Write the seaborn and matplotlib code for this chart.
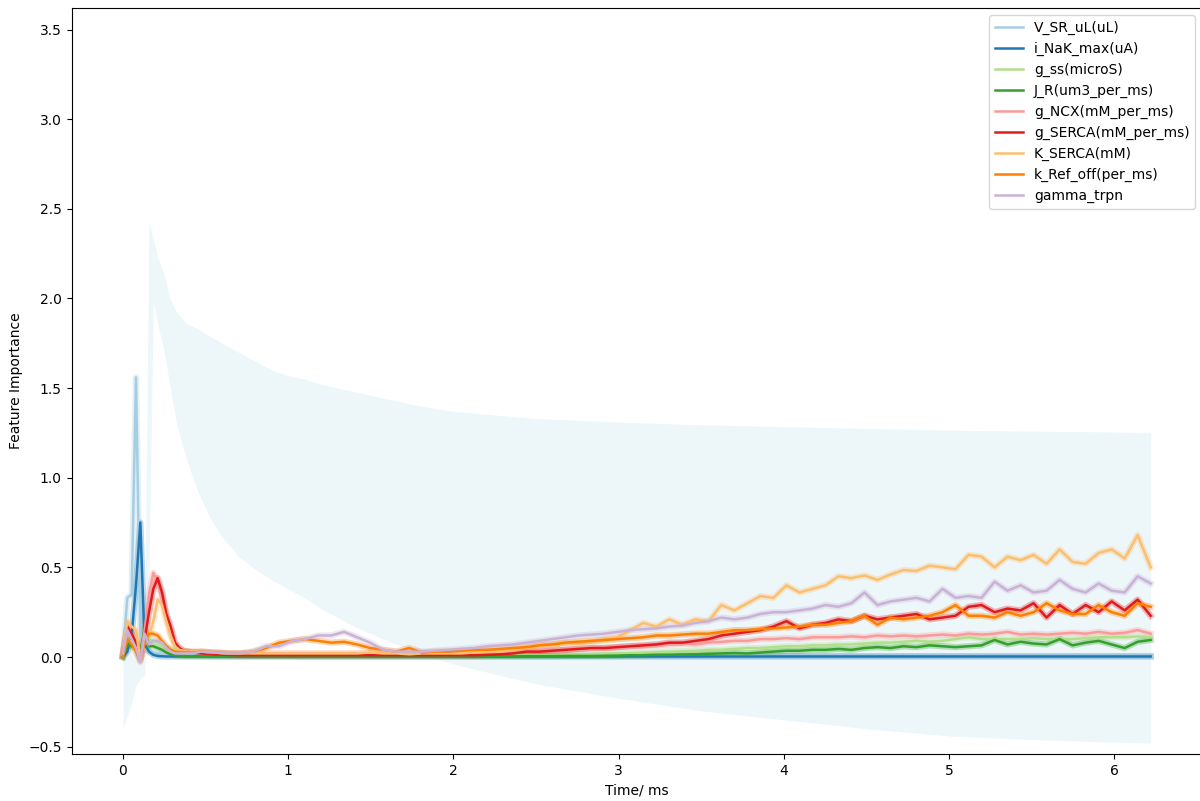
import matplotlib
matplotlib.use("Agg")
import matplotlib.pyplot as plt
import numpy as np
import pandas as pd
import seaborn as sns

# Sampling grid (ms): fine steps during the initial transient, coarser afterwards
STEP = 0.02625
grid_idx = list(range(0, 17)) + list(range(18, 238, 3))
time_ms = [round(k * STEP, 5) for k in grid_idx]

features = [
    "V_SR_uL(uL)", "i_NaK_max(uA)", "g_ss(microS)", "J_R(um3_per_ms)",
    "g_NCX(mM_per_ms)", "g_SERCA(mM_per_ms)", "K_SERCA(mM)",
    "k_Ref_off(per_ms)", "gamma_trpn",
]

v_sr = [0.01, 0.33, 0.35, 1.56, 0.12, 0.05, 0.03, 0.025, 0.02, 0.02, 0.018, 0.016, 0.015, 0.014, 0.013, 0.012, 0.012,
        0.011, 0.01, 0.01, 0.01, 0.009, 0.009, 0.009, 0.008, 0.008, 0.008,
        0.008, 0.008, 0.008, 0.007, 0.007, 0.007, 0.007, 0.007, 0.007, 0.007,
        0.007, 0.007, 0.007, 0.007, 0.007, 0.006, 0.006, 0.006, 0.006, 0.006,
        0.006, 0.006, 0.006, 0.006, 0.006, 0.006, 0.006, 0.006, 0.006, 0.006,
        0.006, 0.006, 0.006, 0.006, 0.006, 0.006, 0.006, 0.006, 0.006, 0.006,
        0.005, 0.005, 0.005, 0.005, 0.005, 0.005, 0.005, 0.005, 0.005, 0.005,
        0.005, 0.005, 0.005, 0.005, 0.005, 0.005, 0.005, 0.005, 0.005, 0.005,
        0.005, 0.005, 0.005, 0.005]

i_nak = [0.0, 0.03, 0.12, 0.4, 0.75, 0.07, 0.03, 0.012, 0.006, 0.004, 0.003, 0.003, 0.003, 0.003, 0.003, 0.003, 0.003,
         0.003, 0.003, 0.003, 0.003, 0.003, 0.003, 0.003, 0.003, 0.003, 0.003,
         0.003, 0.003, 0.003, 0.003, 0.003, 0.003, 0.003, 0.003, 0.003, 0.003,
         0.003, 0.003, 0.003, 0.003, 0.003, 0.003, 0.003, 0.003, 0.003, 0.003,
         0.003, 0.003, 0.003, 0.003, 0.003, 0.003, 0.003, 0.003, 0.003, 0.003,
         0.003, 0.003, 0.003, 0.003, 0.003, 0.003, 0.003, 0.003, 0.003, 0.003,
         0.003, 0.003, 0.003, 0.003, 0.003, 0.003, 0.003, 0.003, 0.003, 0.003,
         0.003, 0.003, 0.003, 0.003, 0.003, 0.003, 0.003, 0.003, 0.003, 0.003,
         0.003, 0.003, 0.003, 0.003]

g_ss = [0.01, 0.1, 0.08, 0.06, 0.02, 0.14, 0.1, 0.09, 0.08, 0.065, 0.055, 0.045, 0.04, 0.035, 0.032, 0.03, 0.028,
        0.025, 0.02, 0.016, 0.013, 0.011, 0.01, 0.009, 0.009, 0.008, 0.008,
        0.008, 0.008, 0.008, 0.007, 0.007, 0.007, 0.007, 0.007, 0.007, 0.008,
        0.008, 0.008, 0.008, 0.009, 0.009, 0.01, 0.01, 0.012, 0.014, 0.015,
        0.016, 0.018, 0.02, 0.022, 0.025, 0.028, 0.03, 0.032, 0.035, 0.04,
        0.04, 0.045, 0.05, 0.05, 0.055, 0.06, 0.06, 0.065, 0.065, 0.07,
        0.07, 0.075, 0.08, 0.08, 0.085, 0.09, 0.085, 0.09, 0.1, 0.11,
        0.1, 0.1, 0.1, 0.1, 0.105, 0.1, 0.1, 0.1, 0.105, 0.11,
        0.11, 0.11, 0.115, 0.11]

j_r = [0.0, 0.07, 0.06, 0.05, 0.03, 0.16, 0.06, 0.06, 0.05, 0.04, 0.025, 0.015, 0.01, 0.008, 0.007, 0.006, 0.006,
       0.006, 0.005, 0.005, 0.005, 0.005, 0.005, 0.005, 0.005, 0.004, 0.004,
       0.004, 0.004, 0.004, 0.004, 0.004, 0.004, 0.004, 0.004, 0.004, 0.004,
       0.004, 0.004, 0.004, 0.005, 0.005, 0.005, 0.005, 0.005, 0.006, 0.006,
       0.006, 0.007, 0.008, 0.01, 0.01, 0.012, 0.012, 0.014, 0.015, 0.018,
       0.02, 0.022, 0.02, 0.025, 0.03, 0.035, 0.035, 0.04, 0.04, 0.045,
       0.04, 0.05, 0.055, 0.05, 0.06, 0.055, 0.065, 0.06, 0.055, 0.06,
       0.065, 0.095, 0.07, 0.085, 0.075, 0.07, 0.1, 0.065, 0.08, 0.09,
       0.07, 0.05, 0.085, 0.095]

g_ncx = [0.02, 0.17, 0.12, 0.07, 0.0, 0.15, 0.35, 0.47, 0.42, 0.33, 0.22, 0.13, 0.07, 0.045, 0.035, 0.03, 0.03,
         0.028, 0.025, 0.022, 0.02, 0.02, 0.02, 0.02, 0.02, 0.02, 0.02,
         0.02, 0.02, 0.02, 0.02, 0.02, 0.02, 0.02, 0.02, 0.02, 0.02,
         0.02, 0.02, 0.02, 0.022, 0.025, 0.03, 0.035, 0.04, 0.04, 0.045,
         0.05, 0.05, 0.055, 0.06, 0.06, 0.065, 0.07, 0.075, 0.07, 0.08,
         0.085, 0.09, 0.09, 0.1, 0.1, 0.105, 0.1, 0.11, 0.11, 0.11,
         0.115, 0.11, 0.12, 0.115, 0.12, 0.115, 0.12, 0.125, 0.12, 0.13,
         0.125, 0.13, 0.14, 0.125, 0.13, 0.125, 0.13, 0.135, 0.13, 0.14,
         0.13, 0.135, 0.15, 0.13]

g_serca = [0.02, 0.17, 0.13, 0.08, -0.01, 0.1, 0.25, 0.38, 0.44, 0.36, 0.24, 0.17, 0.08, 0.05, 0.035, 0.03, 0.025,
           0.02, 0.015, 0.012, 0.01, 0.01, 0.01, 0.01, 0.01, 0.01, 0.01,
           0.01, 0.01, 0.01, 0.01, 0.01, 0.01, 0.01, 0.01, 0.01, 0.01,
           0.01, 0.01, 0.012, 0.015, 0.02, 0.03, 0.03, 0.035, 0.04, 0.045,
           0.05, 0.05, 0.055, 0.06, 0.065, 0.07, 0.08, 0.08, 0.09, 0.1,
           0.12, 0.13, 0.14, 0.15, 0.17, 0.2, 0.16, 0.18, 0.19, 0.21,
           0.2, 0.23, 0.21, 0.22, 0.23, 0.24, 0.21, 0.22, 0.23, 0.28,
           0.29, 0.25, 0.27, 0.26, 0.3, 0.22, 0.29, 0.24, 0.29, 0.25,
           0.31, 0.26, 0.32, 0.23]

k_serca = [0.02, 0.2, 0.17, 0.15, -0.02, 0.08, 0.12, 0.2, 0.32, 0.29, 0.2, 0.12, 0.06, 0.04, 0.035, 0.03, 0.03,
           0.03, 0.025, 0.02, 0.02, 0.02, 0.02, 0.02, 0.02, 0.02, 0.02,
           0.02, 0.02, 0.02, 0.025, 0.02, 0.02, 0.015, 0.02, 0.02, 0.02,
           0.02, 0.025, 0.03, 0.03, 0.04, 0.05, 0.07, 0.07, 0.08, 0.075,
           0.08, 0.1, 0.11, 0.15, 0.19, 0.17, 0.21, 0.18, 0.21, 0.2,
           0.29, 0.26, 0.3, 0.34, 0.33, 0.4, 0.36, 0.38, 0.4, 0.45,
           0.44, 0.455, 0.43, 0.46, 0.485, 0.48, 0.51, 0.5, 0.49, 0.57,
           0.56, 0.5, 0.56, 0.54, 0.57, 0.52, 0.6, 0.53, 0.52, 0.58,
           0.6, 0.55, 0.68, 0.5]

k_ref_off = [0.0, 0.1, 0.07, 0.03, -0.02, 0.08, 0.13, 0.13, 0.12, 0.09, 0.06, 0.04, 0.03, 0.028, 0.026, 0.025, 0.025,
             0.03, 0.025, 0.02, 0.02, 0.03, 0.05, 0.08, 0.09, 0.1, 0.09,
             0.08, 0.085, 0.07, 0.05, 0.04, 0.03, 0.05, 0.025, 0.03, 0.03,
             0.035, 0.04, 0.04, 0.045, 0.05, 0.055, 0.065, 0.07, 0.08, 0.085,
             0.09, 0.095, 0.1, 0.105, 0.11, 0.12, 0.12, 0.125, 0.13, 0.13,
             0.14, 0.15, 0.15, 0.155, 0.16, 0.165, 0.17, 0.18, 0.18, 0.19,
             0.2, 0.23, 0.18, 0.22, 0.21, 0.22, 0.23, 0.25, 0.29, 0.23,
             0.23, 0.22, 0.25, 0.23, 0.25, 0.3, 0.26, 0.24, 0.24, 0.29,
             0.25, 0.23, 0.3, 0.28]

gamma_trpn = [0.02, 0.15, 0.1, 0.05, -0.03, 0.13, 0.07, 0.09, 0.09, 0.08, 0.05, 0.03, 0.02, 0.02, 0.02, 0.02, 0.02,
              0.03, 0.025, 0.02, 0.02, 0.03, 0.06, 0.06, 0.09, 0.1, 0.12,
              0.12, 0.14, 0.11, 0.08, 0.04, 0.03, 0.03, 0.03, 0.035, 0.04,
              0.045, 0.05, 0.06, 0.065, 0.07, 0.08, 0.09, 0.1, 0.11, 0.12,
              0.125, 0.13, 0.14, 0.15, 0.155, 0.16, 0.17, 0.175, 0.19, 0.2,
              0.22, 0.21, 0.22, 0.24, 0.25, 0.25, 0.26, 0.27, 0.29, 0.28,
              0.3, 0.36, 0.29, 0.31, 0.32, 0.33, 0.31, 0.38, 0.33, 0.34,
              0.33, 0.42, 0.37, 0.40, 0.36, 0.37, 0.43, 0.38, 0.36, 0.41,
              0.37, 0.36, 0.45, 0.41]

# Spread of importance over all features (shaded envelope)
band_time = [0, 0.02625, 0.0525, 0.07875, 0.105, 0.13125, 0.1575, 0.18375, 0.21, 0.25,
             0.285, 0.325, 0.385, 0.45, 0.525, 0.6, 0.7, 0.8, 0.9, 1.0,
             1.1, 1.2, 1.4, 1.6, 1.8, 2.0, 2.5, 3.0, 3.5, 4.0,
             4.5, 5.0, 5.5, 6.0, 6.221]
band_upper = [0.0, 0.1, 0.12, 0.15, 0.12, 0.15, 2.43, 2.33, 2.23, 2.13,
              2.0, 1.92, 1.86, 1.83, 1.79, 1.75, 1.7, 1.65, 1.6, 1.57,
              1.55, 1.52, 1.48, 1.44, 1.4, 1.37, 1.33, 1.31, 1.295, 1.285,
              1.275, 1.265, 1.26, 1.255, 1.25]
band_lower = [-0.4, -0.33, -0.25, -0.16, -0.12, -0.1, 0.47, 1.98, 1.86, 1.7,
              1.51, 1.3, 1.1, 0.93, 0.78, 0.67, 0.56, 0.49, 0.43, 0.38,
              0.33, 0.27, 0.17, 0.09, 0.02, -0.04, -0.15, -0.23, -0.3, -0.35,
              -0.4, -0.44, -0.46, -0.475, -0.48]

series = [v_sr, i_nak, g_ss, j_r, g_ncx, g_serca, k_serca, k_ref_off, gamma_trpn]
for name, vals in zip(features, series):
    assert len(vals) == len(time_ms), (name, len(vals), len(time_ms))

df = pd.DataFrame({
    "time": np.tile(time_ms, len(features)),
    "importance": np.concatenate(series),
    "feature": np.repeat(features, len(time_ms)),
})

palette = dict(zip(features, sns.color_palette("Paired", len(features))))

fig = plt.figure(figsize=(12, 8.01), dpi=100)
# the plotting area runs slightly past the right edge of the canvas
ax = fig.add_axes([71.6 / 1200, 47 / 801, (1202 - 71.6) / 1200, (793 - 47) / 801])

ax.fill_between(band_time, band_lower, band_upper, color="lightblue", alpha=0.22, linewidth=0)

# soft halo around each curve, then the curve itself
sns.lineplot(data=df, x="time", y="importance", hue="feature", hue_order=features,
             palette=palette, linewidth=4.5, alpha=0.3, legend=False, ax=ax)
sns.lineplot(data=df, x="time", y="importance", hue="feature", hue_order=features,
             palette=palette, linewidth=1.8, ax=ax)

ax.legend(loc="upper right", fontsize=10)
ax.set_xlabel("Time/ ms")
ax.set_ylabel("Feature Importance")
ax.set_xlim(-0.311, 6.532)
ax.set_ylim(-0.541, 3.62)

fig.savefig("out.png", dpi=100)
